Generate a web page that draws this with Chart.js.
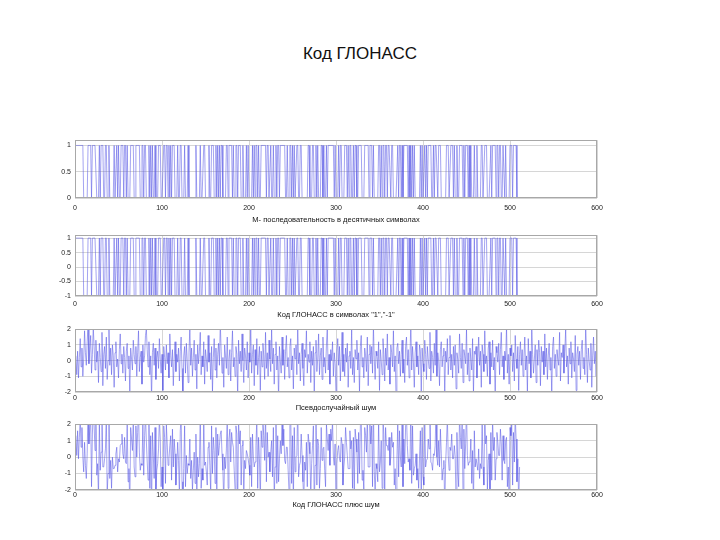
<!DOCTYPE html>
<html>
<head>
<meta charset="utf-8">
<script src="https://cdn.jsdelivr.net/npm/chart.js@4.4.0/dist/chart.umd.min.js"></script>
<style>
  html, body { margin: 0; padding: 0; background: #fff; }
  #page { position: relative; width: 720px; height: 540px; overflow: hidden; }
  #title {
    position: absolute; left: 0; top: 44px; width: 720px; line-height: 20px;
    text-align: center; font: 17px "Liberation Sans", Arial, sans-serif; color: #111;
  }
  canvas { position: absolute; }
</style>
</head>
<body>
<div id="page">
  <div id="title">Код ГЛОНАСС</div>
  <canvas id="c1"></canvas>
  <canvas id="c2"></canvas>
  <canvas id="c3"></canvas>
  <canvas id="c4"></canvas>
</div>
<script>
// --- Данные ---
const xTicks = [0, 100, 200, 300, 400, 500, 600];
const yTicksBits = [0, 0.5, 1];
const yTicksCode = [-1, -0.5, 0, 0.5, 1];
const yTicksNoise = [-2, -1, 0, 1, 2];

const xLabels = [
  'М- последовательность в десятичных символах',
  'Код ГЛОНАСС в символах "1","-1"',
  'Псевдослучайный шум',
  'Код ГЛОНАСС плюс шум'
];

// М-последовательность, 511 символов
const mSequence = [
  1,1,1,1,1,1,1,1,1, 0,0,0,0,0,1,1,1,1, 0,1,1,1,1,1,0,0,0, 1,0,1,1,1,0,0,1,1,
  0,0,1,0,0,0,0,0,1, 0,0,1,0,1,0,0,1,1, 1,0,1,1,0,1,0,0,0, 1,1,1,1,0,0,1,1,1,
  1,1,0,0,1,1,0,1,1, 0,0,0,1,0,1,0,1,0, 0,1,0,0,0,1,1,1,0, 0,0,1,1,0,1,1,0,1,
  0,1,0,1,1,1,0,0,0, 1,0,0,1,1,0,0,0,1, 0,0,0,1,0,0,0,0,0, 0,0,0,1,0,0,0,0,1,
  0,0,0,1,1,0,0,0,0, 1,0,0,1,1,1,0,0,1, 0,1,0,1,0,1,1,0,0, 0,0,1,1,0,1,1,1,1,
  0,1,0,0,1,1,0,1,1, 1,0,0,1,0,0,0,1,0, 1,0,0,0,0,1,0,1,0, 1,1,0,1,0,0,1,1,1,
  1,1,1,0,1,1,0,0,1, 0,0,1,0,0,1,0,1,1, 0,1,1,1,1,1,1,0,0, 1,0,0,1,1,0,1,0,1,
  0,0,1,1,0,0,1,1,0, 0,0,0,0,0,0,1,1,0, 0,0,1,1,0,0,1,0,1, 0,0,0,1,1,0,1,0,0,
  1,0,1,1,1,1,1,1,1, 0,1,0,0,0,1,0,1,1, 0,0,0,1,1,1,0,1,0, 1,1,0,0,1,0,1,1,0,
  0,1,1,1,1,0,0,0,1, 1,1,1,1,0,1,1,1,0, 1,0,0,0,0,0,1,1,0, 1,0,1,1,0,1,1,0,1,
  1,1,0,1,1,0,0,0,0, 0,1,0,1,1,0,1,0,1, 1,1,1,1,0,1,0,1,0, 1,0,1,0,0,0,0,0,0,
  1,0,1,0,0,1,0,1,0, 1,1,1,1,0,0,1,0,1, 1,1,0,1,1,1,0,0,0, 0,0,0,1,1,1,0,0,1,
  1,1,0,1,0,0,1,0,0, 1,1,1,1,0,1,0,1,1, 1,0,1,0,1,0,0,0,1, 0,0,1,0,0,0,0,1,1,
  0,0,1,1,1,0,0,0,0, 1,0,1,1,1,1,0,1,1, 0,1,1,0,0,1,1,0,1, 0,0,0,0,1,1,1,0,1,
  1,1,1,0,0,0,0
];

// Код ГЛОНАСС в символах 1 / -1
const glonassCode = [
  1,1,1,1,1,1,1,1,1, -1,-1,-1,-1,-1,1,1,1,1, -1,1,1,1,1,1,-1,-1,-1, 1,-1,1,1,1,-1,-1,1,1,
  -1,-1,1,-1,-1,-1,-1,-1,1, -1,-1,1,-1,1,-1,-1,1,1, 1,-1,1,1,-1,1,-1,-1,-1, 1,1,1,1,-1,-1,1,1,1,
  1,1,-1,-1,1,1,-1,1,1, -1,-1,-1,1,-1,1,-1,1,-1, -1,1,-1,-1,-1,1,1,1,-1, -1,-1,1,1,-1,1,1,-1,1,
  -1,1,-1,1,1,1,-1,-1,-1, 1,-1,-1,1,1,-1,-1,-1,1, -1,-1,-1,1,-1,-1,-1,-1,-1, -1,-1,-1,1,-1,-1,-1,-1,1,
  -1,-1,-1,1,1,-1,-1,-1,-1, 1,-1,-1,1,1,1,-1,-1,1, -1,1,-1,1,-1,1,1,-1,-1, -1,-1,1,1,-1,1,1,1,1,
  -1,1,-1,-1,1,1,-1,1,1, 1,-1,-1,1,-1,-1,-1,1,-1, 1,-1,-1,-1,-1,1,-1,1,-1, 1,1,-1,1,-1,-1,1,1,1,
  1,1,1,-1,1,1,-1,-1,1, -1,-1,1,-1,-1,1,-1,1,1, -1,1,1,1,1,1,1,-1,-1, 1,-1,-1,1,1,-1,1,-1,1,
  -1,-1,1,1,-1,-1,1,1,-1, -1,-1,-1,-1,-1,-1,1,1,-1, -1,-1,1,1,-1,-1,1,-1,1, -1,-1,-1,1,1,-1,1,-1,-1,
  1,-1,1,1,1,1,1,1,1, -1,1,-1,-1,-1,1,-1,1,1, -1,-1,-1,1,1,1,-1,1,-1, 1,1,-1,-1,1,-1,1,1,-1,
  -1,1,1,1,1,-1,-1,-1,1, 1,1,1,1,-1,1,1,1,-1, 1,-1,-1,-1,-1,-1,1,1,-1, 1,-1,1,1,-1,1,1,-1,1,
  1,1,-1,1,1,-1,-1,-1,-1, -1,1,-1,1,1,-1,1,-1,1, 1,1,1,1,-1,1,-1,1,-1, 1,-1,1,-1,-1,-1,-1,-1,-1,
  1,-1,1,-1,-1,1,-1,1,-1, 1,1,1,1,-1,-1,1,-1,1, 1,1,-1,1,1,1,-1,-1,-1, -1,-1,-1,1,1,1,-1,-1,1,
  1,1,-1,1,-1,-1,1,-1,-1, 1,1,1,1,-1,1,-1,1,1, 1,-1,1,-1,1,-1,-1,-1,1, -1,-1,1,-1,-1,-1,-1,1,1,
  -1,-1,1,1,1,-1,-1,-1,-1, 1,-1,1,1,1,1,-1,1,1, -1,1,1,-1,-1,1,1,-1,1, -1,-1,-1,-1,1,1,1,-1,1,
  1,1,1,-1,-1,-1,-1
];

// Псевдослучайный шум, 600 отсчётов
const noise = [
  0.3,-0.9,0.6,-1.1,0.2,1.4,-0.4,0.8,-1.0,0.1,1.9,0.5,-0.3,1.2,2.3,-0.2,0.7,1.6,-0.8,0.4,
  2.1,0.9,-0.6,1.3,-0.1,0.6,-1.4,1.1,0.2,-0.7,1.8,-1.6,0.4,0.9,-0.5,1.5,-1.2,0.0,2.2,-0.3,
  0.8,-0.9,1.0,0.3,-1.7,0.5,1.2,-0.4,0.1,-1.1,0.7,1.7,-0.2,0.4,-0.8,0.9,0.2,-1.3,0.6,1.1,
  -0.5,0.3,-2.1,0.8,0.1,-0.6,1.3,0.4,-0.2,0.9,-1.0,0.5,1.9,-0.7,0.2,0.6,-1.5,1.0,-0.1,0.3,
  1.6,2.0,0.7,-0.4,1.2,-0.9,0.3,-2.4,0.5,1.1,-0.3,0.8,-1.2,0.2,0.6,-0.5,1.4,0.1,-0.8,0.4,
  -1.9,0.9,0.2,-0.6,1.0,-0.2,0.5,-1.1,1.7,0.3,-0.4,0.7,-1.6,0.1,1.2,-0.7,0.4,-0.1,0.8,-1.3,
  0.6,1.5,-0.5,-2.2,0.3,0.9,-0.8,1.1,0.0,-1.4,0.5,2.1,-0.3,0.8,-1.0,0.2,1.3,-0.6,0.4,-1.8,
  1.0,-0.2,0.6,1.8,-0.9,0.3,-0.4,1.2,-1.5,0.7,0.1,-0.7,1.6,-0.1,0.5,-1.2,0.9,-2.0,0.2,1.4,
  -0.6,0.8,-1.1,0.4,1.1,-0.3,2.4,0.6,-0.8,0.2,-1.7,1.0,0.3,-0.5,1.5,-0.9,0.1,0.7,-1.3,0.5,
  1.9,-0.4,0.2,-1.0,0.9,0.4,-2.3,1.3,-0.2,0.6,-0.7,1.7,0.0,-1.4,0.8,0.3,-0.6,1.2,-1.1,0.5,
  -0.1,2.2,-0.8,0.4,1.0,-1.6,0.7,-0.3,1.4,-0.9,0.2,0.9,-1.9,0.6,-0.4,1.1,0.3,-1.2,1.8,-0.5,
  0.5,-1.0,1.3,0.1,-0.7,2.0,-0.2,0.8,-1.5,0.4,1.2,-0.6,0.3,-2.5,0.9,0.0,-0.8,1.5,-0.3,0.7,
  -1.2,0.6,1.6,-0.4,0.2,-1.1,0.9,1.4,-0.6,0.3,-1.8,0.8,0.1,1.0,-0.9,2.3,-0.2,0.5,-1.3,0.4,
  1.1,-0.5,-1.6,0.7,0.2,1.9,-0.8,0.4,-0.1,1.2,-1.4,0.6,-0.3,0.9,-2.1,0.5,1.3,-0.7,0.1,1.7,
  -0.9,0.3,0.8,-1.2,1.5,-0.4,0.2,-0.8,1.0,2.1,-0.6,0.4,-1.5,0.7,0.0,1.2,-1.0,0.5,-0.2,-2.2,
  0.6,1.4,-0.3,0.9,-1.3,0.2,1.8,-0.7,0.4,-1.0,0.8,-0.1,1.1,-1.7,0.3,0.6,-0.5,2.0,-0.9,0.2,
  -1.4,0.7,0.1,1.3,-0.6,0.5,-2.0,0.9,1.6,-0.4,0.2,-1.1,0.8,0.3,-0.7,1.5,-1.6,0.4,1.0,-0.2,
  0.9,-0.8,2.2,0.1,-1.2,0.6,0.3,-0.5,1.2,-1.9,0.7,0.0,-0.9,1.4,0.4,-1.3,0.8,-0.3,1.7,-0.6,
  0.2,-1.5,1.0,0.5,-0.4,1.9,-0.7,0.3,-2.3,0.8,1.1,-0.2,0.6,-1.0,0.4,1.3,-0.8,0.1,-1.4,0.9,
  1.5,-0.3,0.7,-1.1,0.2,2.4,-0.6,0.9,-0.1,-1.7,0.5,1.2,-0.4,0.3,-0.9,1.0,0.6,-2.0,0.8,-0.2,
  -0.7,1.3,0.4,-1.2,0.9,0.1,-0.5,1.8,-1.3,0.6,0.2,-0.8,1.1,-0.3,2.1,-1.0,0.5,0.0,-1.6,0.7,
  1.2,-0.4,0.3,0.8,-2.2,0.6,-0.1,1.4,-0.9,0.2,1.6,-0.6,0.4,-1.1,0.9,-0.3,1.0,-1.8,0.5,0.1,
  -0.8,1.7,0.2,-0.5,1.1,-1.4,0.7,0.3,-0.2,2.0,-0.9,0.5,-1.3,0.8,0.1,-0.6,1.4,-2.1,0.6,0.4,
  0.9,-1.1,0.2,1.5,-0.3,0.6,-1.7,1.0,0.4,-0.7,1.9,-0.2,0.3,-1.0,0.8,1.2,-1.5,0.5,-0.4,1.3,
  -0.6,0.2,-2.4,0.9,0.5,-0.1,1.1,-0.9,0.7,1.8,-0.4,0.3,-1.2,0.6,0.0,2.2,-0.8,0.4,-1.5,0.8,
  0.3,1.0,-0.7,0.5,-1.3,1.6,0.1,-0.5,0.9,-1.9,0.4,1.2,-0.3,0.7,-1.0,0.2,1.5,-0.6,0.3,-2.0,
  1.4,-0.2,0.6,-1.1,2.3,0.4,-0.8,0.1,1.0,-1.4,0.7,-0.3,1.3,0.5,-1.6,0.9,-0.1,0.6,-0.9,1.7,
  -0.4,0.8,-1.2,0.3,1.1,-0.6,0.2,-2.1,0.9,1.5,-0.5,0.4,-1.0,0.7,0.1,-0.3,1.8,-1.3,0.5,0.2,
  1.0,-0.8,0.6,2.0,-0.4,0.3,-1.5,0.8,-0.2,1.2,-1.1,0.5,0.1,-0.7,1.6,-1.9,0.4,0.9,-0.3,0.6,
  -1.2,0.7,1.3,-0.5,0.2,-0.9,2.2,0.4,-1.4,0.8,0.0,-0.6,1.1,-1.7,0.3,1.5,-0.2,0.6,-1.0,1.9
];

// --- Оформление ---
const FONT = '"Liberation Sans", Arial, sans-serif';
const LINE_COLOR = 'rgba(90, 90, 230, 0.55)';
const GRID_COLOR = '#d6d6d6';
const BOX_COLOR = '#a8a8a8';
const CANVAS_LEFT = 35;
const CANVAS_WIDTH = 585;
const PAD_TOP = 6;
const PAD_RIGHT = 23;

// Рамка вокруг области графика (как box on в MATLAB)
const boxPlugin = {
  id: 'box',
  afterDraw(chart) {
    const { ctx, chartArea: a } = chart;
    ctx.save();
    ctx.strokeStyle = BOX_COLOR;
    ctx.lineWidth = 1;
    ctx.strokeRect(Math.round(a.left) + 0.5, Math.round(a.top) + 0.5,
                   Math.round(a.right - a.left) - 1, Math.round(a.bottom - a.top) - 1);
    ctx.restore();
  }
};

function toPoints(values) {
  return values.map((v, i) => ({ x: i + 1, y: v }));
}

const panels = [
  { id: 'c1', top: 138, bottom: 198, min: 0, max: 1.1, yTicks: yTicksBits,
    points: toPoints(mSequence), label: xLabels[0], tickPad: 6, axisH: 26 },
  { id: 'c2', top: 233, bottom: 296, min: -1, max: 1.1, yTicks: yTicksCode,
    points: toPoints(glonassCode), label: xLabels[1], tickPad: 4, axisH: 23 },
  { id: 'c3', top: 327, bottom: 392, min: -2, max: 2, yTicks: yTicksNoise,
    points: toPoints(noise), label: xLabels[2], tickPad: 2, axisH: 20 },
  { id: 'c4', top: 422, bottom: 490, min: -2, max: 2, yTicks: yTicksNoise,
    points: glonassCode.map((c, i) => ({ x: i + 1, y: c + noise[i] })),
    label: xLabels[3], tickPad: 1, axisH: 19 }
];

function makePanel(p) {
  const canvas = document.getElementById(p.id);
  const height = PAD_TOP + (p.bottom - p.top) + p.axisH;
  canvas.width = CANVAS_WIDTH;
  canvas.height = height;
  canvas.style.left = CANVAS_LEFT + 'px';
  canvas.style.top = (p.top - PAD_TOP) + 'px';
  canvas.style.width = CANVAS_WIDTH + 'px';
  canvas.style.height = height + 'px';

  return new Chart(canvas, {
    type: 'line',
    data: {
      datasets: [{
        data: p.points,
        borderColor: LINE_COLOR,
        borderWidth: 1,
        pointRadius: 0,
        tension: 0,
        fill: false
      }]
    },
    options: {
      responsive: false,
      animation: false,
      devicePixelRatio: 1,
      layout: { padding: { top: PAD_TOP, right: PAD_RIGHT, left: 0, bottom: 0 } },
      plugins: { legend: { display: false }, tooltip: { enabled: false } },
      scales: {
        x: {
          type: 'linear',
          min: 0,
          max: 600,
          afterBuildTicks: s => { s.ticks = xTicks.map(v => ({ value: v })); },
          afterFit: s => { s.height = p.axisH; },
          grid: { color: GRID_COLOR, drawTicks: false },
          border: { display: false },
          ticks: {
            padding: p.tickPad,
            maxRotation: 0,
            autoSkip: false,
            color: '#222',
            font: { family: FONT, size: 7 },
            callback: v => String(v)
          },
          title: {
            display: true,
            text: p.label,
            color: '#111',
            padding: 0,
            font: { family: FONT, size: 7.5 }
          }
        },
        y: {
          type: 'linear',
          min: p.min,
          max: p.max,
          afterBuildTicks: s => { s.ticks = p.yTicks.map(v => ({ value: v })); },
          afterFit: s => { s.width = 75 - CANVAS_LEFT; },
          grid: { color: GRID_COLOR, drawTicks: false },
          border: { display: false },
          ticks: {
            padding: 4,
            color: '#222',
            font: { family: FONT, size: 7 },
            callback: v => String(v)
          }
        }
      }
    },
    plugins: [boxPlugin]
  });
}

panels.forEach(makePanel);
</script>
</body>
</html>
